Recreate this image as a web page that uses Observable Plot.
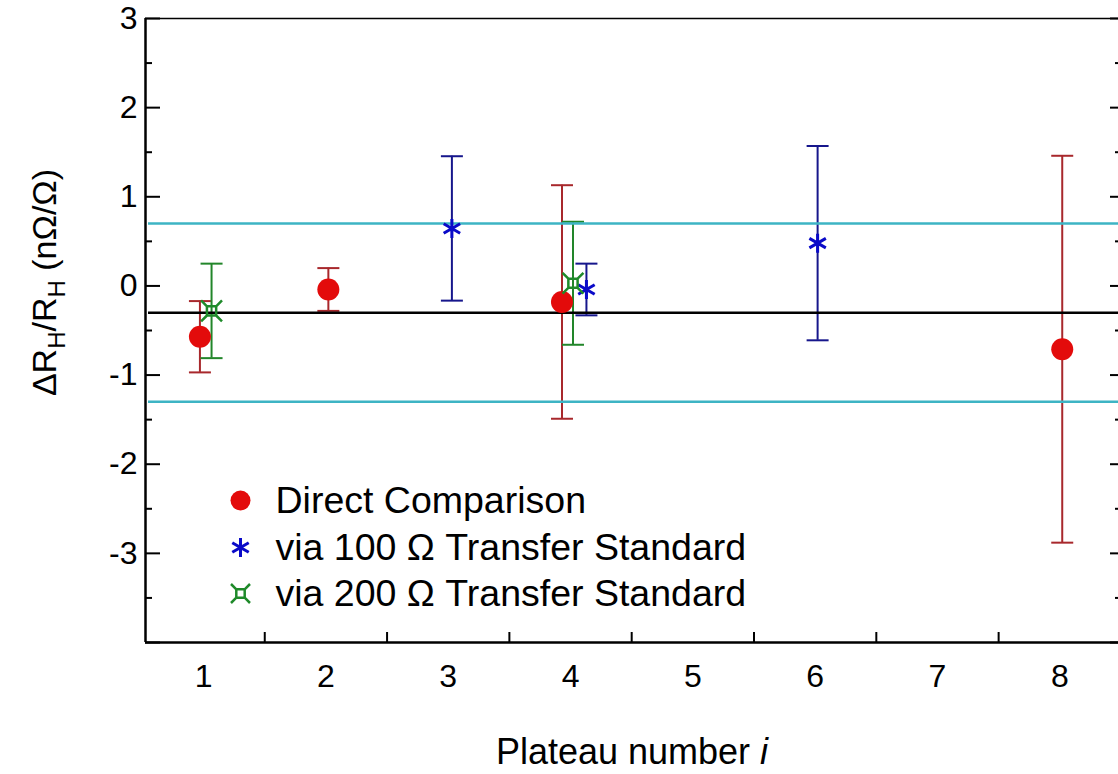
<!DOCTYPE html>
<html><head><meta charset="utf-8">
<script src="https://cdn.jsdelivr.net/npm/d3@7"></script>
<script src="https://cdn.jsdelivr.net/npm/@observablehq/plot@0.6"></script>
<style>
html,body{margin:0;padding:0;background:#fff;overflow:hidden;}
</style></head><body><div id="chart"></div>
<script>
// ---- data ----
const plateaus = [1, 2, 3, 4, 5, 6, 7, 8];
const plateauBounds = [1.5, 2.5, 3.5, 4.5, 5.5, 6.5, 7.5];
const yLabelTicks = [-3, -2, -1, 0, 1, 2, 3];
const yMajorTicks = [-4, -3, -2, -1, 0, 1, 2, 3];
const yMinorTicks = [-3.5, -2.5, -1.5, -0.5, 0.5, 1.5, 2.5];
const xDomain = [0.525, 8.48];
const yDomain = [-4, 3];

const seriesNames = ["Direct Comparison", "via 100 Ω Transfer Standard", "via 200 Ω Transfer Standard"];

const directX = [0.97, 2.02, 3.93, 8.02];
const directY = [-0.57, -0.04, -0.18, -0.71];
const directErr = [0.40, 0.24, 1.31, 2.17];

const via100X = [3.03, 4.13, 6.02];
const via100Y = [0.645, -0.04, 0.48];
const via100Err = [0.81, 0.29, 1.09];

const via200X = [1.065, 4.02];
const via200Y = [-0.28, 0.03];
const via200Err = [0.53, 0.69];

const meanValue = [-0.3];
const limitValues = [0.7, -1.3];

// ---- styling ----
const FONT = "Liberation Sans, Arial, Helvetica, sans-serif";
const capSymbol = {draw(ctx, size) { const w = Math.sqrt(size / Math.PI); ctx.moveTo(-w, 0); ctx.lineTo(w, 0); }};
const squareCross = {draw(ctx, size) {
  const r = Math.sqrt(size / Math.PI), a = r * 0.42, b = r * 0.95;
  ctx.moveTo(-a, -a); ctx.lineTo(a, -a); ctx.lineTo(a, a); ctx.lineTo(-a, a); ctx.closePath();
  ctx.moveTo(a, -a); ctx.lineTo(b, -b);
  ctx.moveTo(-a, -a); ctx.lineTo(-b, -b);
  ctx.moveTo(a, a); ctx.lineTo(b, b);
  ctx.moveTo(-a, a); ctx.lineTo(-b, b);
}};

const series = [
  {name: seriesNames[0], xs: directX, ys: directY, es: directErr, bar: "#a8282c", mark: "#e30b0b", symbol: "circle", filled: true, r: 11, lr: 10, sw: 0},
  {name: seriesNames[1], xs: via100X, ys: via100Y, es: via100Err, bar: "#16168c", mark: "#0a0ac8", symbol: "asterisk", filled: false, r: 9, lr: 9, sw: 3},
  {name: seriesNames[2], xs: via200X, ys: via200Y, es: via200Err, bar: "#22862a", mark: "#1f8a2a", symbol: squareCross, filled: false, r: 11, lr: 10, sw: 2.5}
];
const rowsOf = s => s.xs.map((x, i) => ({x, y: s.ys[i], lo: s.ys[i] - s.es[i], hi: s.ys[i] + s.es[i]}));

const marks = [];
// error bars
for (const s of series) {
  const rows = rowsOf(s);
  marks.push(Plot.ruleX(rows, {x: "x", y1: "lo", y2: "hi", stroke: s.bar, strokeWidth: 2}));
  marks.push(Plot.dot(rows, {x: "x", y: "hi", symbol: capSymbol, r: 11, stroke: s.bar, strokeWidth: 2, fill: "none"}));
  marks.push(Plot.dot(rows, {x: "x", y: "lo", symbol: capSymbol, r: 11, stroke: s.bar, strokeWidth: 2, fill: "none"}));
}
// reference lines
marks.push(Plot.ruleY(limitValues, {stroke: "#3db4c4", strokeWidth: 2.5, insetLeft: 3}));
marks.push(Plot.ruleY(meanValue, {stroke: "#000", strokeWidth: 2.5, insetLeft: 3}));
// markers
for (const s of series) {
  const rows = rowsOf(s);
  marks.push(Plot.dot(rows, s.filled
    ? {x: "x", y: "y", symbol: s.symbol, r: s.r, fill: s.mark, stroke: "none"}
    : {x: "x", y: "y", symbol: s.symbol, r: s.r, fill: "none", stroke: s.mark, strokeWidth: s.sw}));
}
// legend
const legendDy = [-142, -95, -49];
series.forEach((s, i) => {
  marks.push(Plot.dot([s.name], s.filled
    ? {frameAnchor: "bottom-left", dx: 95, dy: legendDy[i], symbol: s.symbol, r: s.lr, fill: s.mark, stroke: "none"}
    : {frameAnchor: "bottom-left", dx: 95, dy: legendDy[i], symbol: s.symbol, r: s.lr, fill: "none", stroke: s.mark, strokeWidth: s.sw}));
  marks.push(Plot.text([s.name], {frameAnchor: "bottom-left", dx: 130, dy: legendDy[i], text: d => d, textAnchor: "start", lineAnchor: "middle", fontSize: 37.5, fill: "#000"}));
});
// frame lines
marks.push(Plot.ruleY([yDomain[1]], {stroke: "#000", strokeWidth: 1.5}));
marks.push(Plot.ruleY([yDomain[0]], {stroke: "#000", strokeWidth: 2.5}));
marks.push(Plot.ruleX([xDomain[0]], {stroke: "#000", strokeWidth: 2.5}));
// axes
marks.push(Plot.axisY({anchor: "left", ticks: yMajorTicks, tickSize: 15, dx: 15, tickFormat: () => "", label: null, strokeWidth: 2}));
marks.push(Plot.axisY({anchor: "left", ticks: yLabelTicks, tickSize: 0, tickPadding: 8, tickFormat: d => String(d), label: null, fontSize: 32}));
marks.push(Plot.axisY({anchor: "left", ticks: yMinorTicks, tickSize: 7, dx: 7, tickFormat: () => "", label: null, strokeWidth: 2}));
marks.push(Plot.axisY({anchor: "right", ticks: yMajorTicks, tickSize: 9, dx: -9, tickFormat: () => "", label: null, strokeWidth: 2}));
marks.push(Plot.axisY({anchor: "right", ticks: yMinorTicks, tickSize: 4, dx: -4, tickFormat: () => "", label: null, strokeWidth: 2}));
marks.push(Plot.axisX({anchor: "bottom", ticks: plateauBounds, tickSize: 10, dy: -10, tickFormat: () => "", label: null, strokeWidth: 2}));
marks.push(Plot.axisX({anchor: "bottom", ticks: plateaus, tickSize: 0, tickPadding: 22, tickFormat: d => String(d), label: null, fontSize: 32}));
// titles
const xTitle = "Plateau number i";
const yTitle = "ΔRH/RH (nΩ/Ω)";
marks.push(Plot.text([xTitle], {frameAnchor: "bottom", dy: 110, text: d => d, textAnchor: "middle", lineAnchor: "middle", fontSize: 36, fill: "#000"}));
marks.push(Plot.text([yTitle], {frameAnchor: "left", dx: -100, dy: -48, rotate: -90, text: d => d, textAnchor: "middle", lineAnchor: "middle", fontSize: 34, fill: "#000"}));

const chart = Plot.plot({
  width: 1118, height: 774,
  marginTop: 18, marginLeft: 145, marginRight: 0, marginBottom: 132,
  style: {fontFamily: FONT, background: "#fff", color: "#000", overflow: "visible"},
  x: {type: "linear", domain: xDomain},
  y: {type: "linear", domain: yDomain},
  marks
});
document.getElementById("chart").appendChild(chart);

function richText(root, original, parts) {
  d3.select(root).selectAll("text").filter(function () { return this.textContent === original; })
    .each(function () {
      const el = d3.select(this);
      el.text(null);
      for (const p of parts) {
        const ts = el.append("tspan").text(p.t);
        if (p.dy) ts.attr("dy", p.dy);
        if (p.size) ts.attr("font-size", p.size);
        if (p.italic) ts.attr("font-style", "italic");
      }
    });
}
richText(chart, xTitle, [{t: "Plateau number "}, {t: "i", italic: true}]);
richText(chart, yTitle, [{t: "ΔR"}, {t: "H", dy: 9, size: 24}, {t: "/R", dy: -9}, {t: "H", dy: 9, size: 24}, {t: " (nΩ/Ω)", dy: -9}]);
</script></body></html>
